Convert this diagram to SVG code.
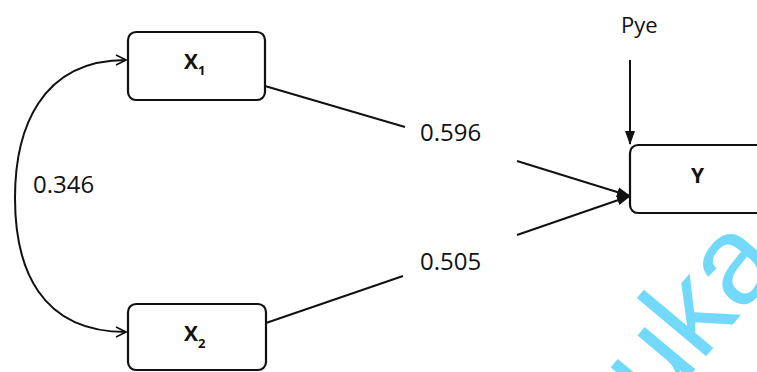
<svg xmlns="http://www.w3.org/2000/svg" width="757" height="372" viewBox="0 0 757 372">
<defs>
<style>
.box{fill:#fff;stroke:#111;stroke-width:2.2}
.ln{fill:none;stroke:#111;stroke-width:2}
.lbl{font-family:"Open Sans","DejaVu Sans",sans-serif;font-size:24px;fill:#111}
.nm{font-family:"Open Sans","DejaVu Sans",sans-serif;font-weight:bold;font-size:21px;fill:#111}
.sub{font-family:"Open Sans","DejaVu Sans",sans-serif;font-weight:bold;font-size:13px;fill:#111}
.wm{font-family:"Liberation Sans","DejaVu Sans",sans-serif;font-size:125px;fill:#72d9fb}
</style>
<marker id="open" viewBox="0 0 12 12" refX="11" refY="6" markerWidth="12" markerHeight="12" markerUnits="userSpaceOnUse" orient="auto-start-reverse">
<path d="M1,1 L11,6 L1,11" fill="none" stroke="#111" stroke-width="1.6"/>
</marker>
<marker id="solid" viewBox="0 0 14 12" refX="13" refY="6" markerWidth="14" markerHeight="12" markerUnits="userSpaceOnUse" orient="auto">
<path d="M0,1 L14,6 L0,11 Z" fill="#111"/>
</marker>
</defs>
<rect width="757" height="372" fill="#fff"/>
<text class="wm" transform="translate(656,416) rotate(-50)">uka</text>
<g id="connectors">
<path class="ln" d="M126,60 C40,60 15,130 15,198 C15,268 40,332 126,332" marker-start="url(#open)" marker-end="url(#open)"/>
<line class="ln" x1="265" y1="86" x2="405" y2="127"/>
<line class="ln" x1="517" y1="161" x2="630" y2="196" marker-end="url(#solid)"/>
<line class="ln" x1="266" y1="323" x2="403" y2="276"/>
<line class="ln" x1="517" y1="235" x2="630" y2="196" marker-end="url(#solid)"/>
<line class="ln" x1="630" y1="60" x2="630" y2="144" marker-end="url(#solid)"/>
</g>
<g id="X1">
<rect class="box" x="128" y="32" width="137" height="68" rx="8"/>
<text class="nm" x="184" y="69">X</text><text class="sub" x="198" y="75">1</text>
</g>
<g id="X2">
<rect class="box" x="128" y="304" width="138" height="66" rx="8"/>
<text class="nm" x="184" y="341">X</text><text class="sub" x="198" y="348">2</text>
</g>
<g id="Y">
<rect class="box" x="630" y="145" width="140" height="68" rx="8"/>
<text class="nm" x="691" y="183">Y</text>
</g>
<g id="labels">
<text class="lbl" x="420" y="141">0.596</text>
<text class="lbl" x="420" y="270">0.505</text>
<text class="lbl" x="33" y="193">0.346</text>
<text class="lbl" x="621" y="33" style="font-size:22px">Pye</text>
</g>
</svg>
